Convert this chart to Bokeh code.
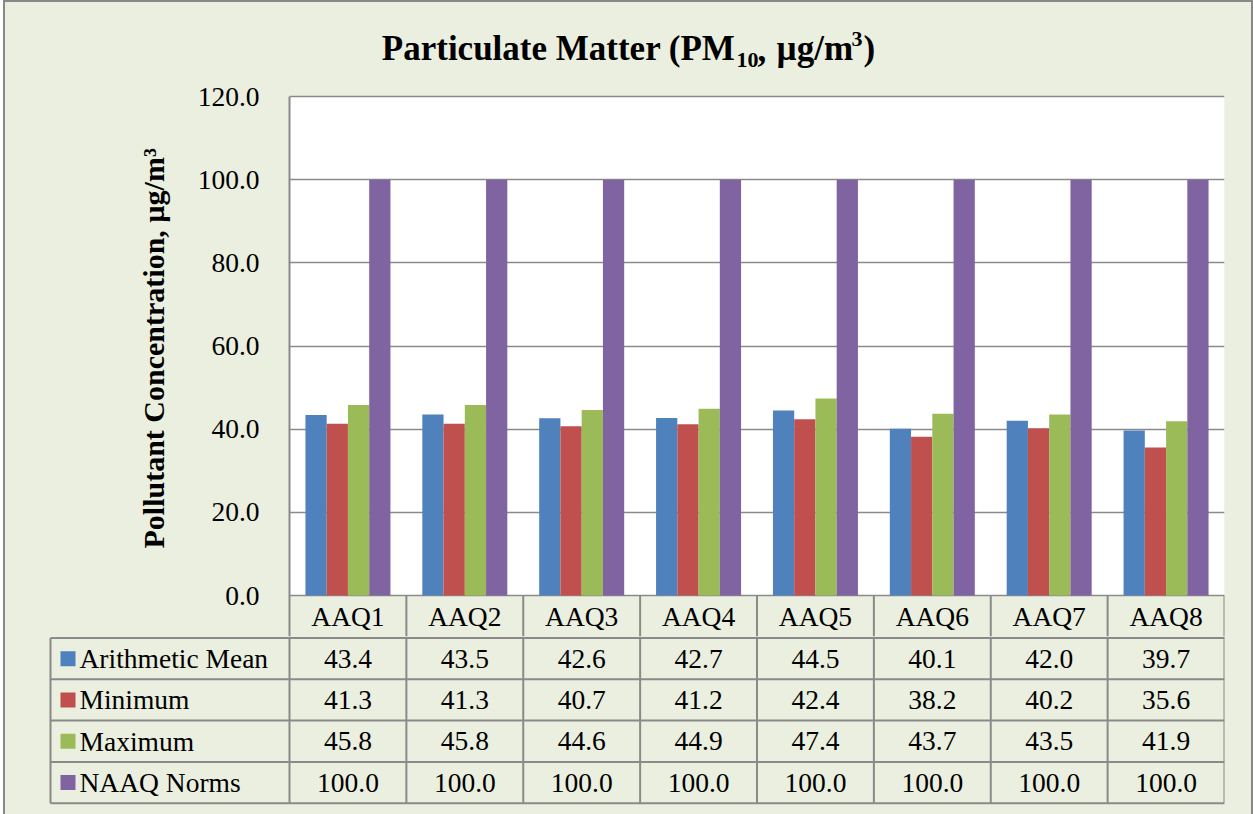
from bokeh.plotting import figure
from bokeh.models import Range1d, FixedTicker, NumeralTickFormatter, BoxAnnotation, ColumnDataSource, Title
from bokeh.transform import dodge
from bokeh.layouts import column
from bokeh.core.properties import value
from bokeh.embed import file_html
from bokeh.resources import INLINE

# ---------------- data ----------------
categories = ["AAQ1", "AAQ2", "AAQ3", "AAQ4", "AAQ5", "AAQ6", "AAQ7", "AAQ8"]
series_names = ["Arithmetic Mean", "Minimum", "Maximum", "NAAQ Norms"]
arithmetic_mean = [43.4, 43.5, 42.6, 42.7, 44.5, 40.1, 42.0, 39.7]
minimum = [41.3, 41.3, 40.7, 41.2, 42.4, 38.2, 40.2, 35.6]
maximum = [45.8, 45.8, 44.6, 44.9, 47.4, 43.7, 43.5, 41.9]
naaq_norms = [100.0, 100.0, 100.0, 100.0, 100.0, 100.0, 100.0, 100.0]
y_ticks = [0, 20, 40, 60, 80, 100, 120]
colors = ["#4F81BD", "#C0504D", "#9BBB59", "#8064A2"]

# ---------------- style / layout constants ----------------
BG = "#EBEFDF"
LINE = "#8A8A8A"
FONT = "Liberation Serif"
TXT = "27.5px"
N = len(categories)
Y_MAX = 120.0
PAGE_X0 = 5            # figure x origin on page (margin 3 + border 2)
FRAME_L, FRAME_R = 289, 1224
FRAME_TOP_PX, ZERO_PX = 96, 595
CHART_TOP_PX, SPLIT_PX, PAGE_H = 2, 636, 814
FIG_W = 1246
CW = (FRAME_R - FRAME_L) / N                # px per category
K = Y_MAX / (ZERO_PX - FRAME_TOP_PX)        # data units per px
ROW = 41.3
BAR_W = 1 / 5.5

def xd(px):
    return (px - FRAME_L) / CW

def yd(px):
    return (ZERO_PX - px) * K

series = [arithmetic_mean, minimum, maximum, naaq_norms]
data = {"pos": [i + 0.5 for i in range(N)], "cat": categories}
for j, s in enumerate(series):
    data["s%d" % j] = s
src = ColumnDataSource(data)

# ---------------- chart figure ----------------
ytop, ybot = yd(CHART_TOP_PX), yd(SPLIT_PX)
p = figure(width=FIG_W, height=SPLIT_PX - CHART_TOP_PX,
           x_range=Range1d(0, N), y_range=Range1d(ybot, ytop),
           x_axis_type=None, output_backend="svg", toolbar_location=None,
           min_border_left=FRAME_L - PAGE_X0, min_border_right=PAGE_X0 + FIG_W - FRAME_R,
           min_border_top=0, min_border_bottom=0)
p.frame_align = False
p.background_fill_color = BG
p.border_fill_color = BG
p.outline_line_color = None

p.add_layout(BoxAnnotation(left=0, right=N, bottom=0, top=Y_MAX, fill_color="white",
                           fill_alpha=1, line_color=None, level="image"))

for j in range(len(series)):
    p.vbar(x=dodge("pos", (j - 1.5) * BAR_W, range=p.x_range), top="s%d" % j,
           width=BAR_W, bottom=0, source=src, fill_color=colors[j], line_color=None)

ax = p.yaxis[0]
ax.ticker = FixedTicker(ticks=y_ticks)
ax.formatter = NumeralTickFormatter(format="0.0")
ax.bounds = (ybot, Y_MAX)
ax.axis_line_color = LINE
ax.axis_line_width = 2
ax.major_tick_line_color = None
ax.minor_tick_line_color = None
ax.major_label_text_font = FONT
ax.major_label_text_font_size = TXT
ax.major_label_text_color = "black"
ax.major_label_standoff = 24

ylab = Title(text="Pollutant Concentration, µg/m³", align="left", offset=88, standoff=50,
             text_font=FONT, text_font_style="bold", text_font_size="30px", text_color="black")
p.add_layout(ylab, "left")

p.ygrid.grid_line_color = LINE
p.ygrid.grid_line_width = 1.5

# header row separators and category labels
bx = list(range(1, N + 1))
p.segment(x0=bx, y0=[ybot] * len(bx), x1=bx, y1=[0] * len(bx), line_color=LINE, line_width=2)
p.text(x="pos", y=ybot / 2, text="cat", source=src, text_font=value(FONT),
       text_font_size=TXT, text_align="center", text_baseline="middle", text_color="black")

# title pieces (text, left/right px, baseline px, size, align)
title_parts = [
    ("Particulate Matter (PM", 735, 48, "35px", "right"),
    ("10", 736, 59, "22px", "left"),
    (",", 757, 48, "35px", "left"),
    ("µg/m", 776, 48, "35px", "left"),
    ("3", 851, 38, "22px", "left"),
    (")", 863, 48, "35px", "left"),
]
for t, px, py, fs, al in title_parts:
    p.text(x=[xd(px)], y=[yd(py)], text=[t], text_font=value(FONT), text_font_style="bold",
           text_font_size=fs, text_align=al, text_baseline="alphabetic", text_color="black")

# ---------------- table figure ----------------
TAB_L = 48
q = figure(width=FIG_W, height=PAGE_H - SPLIT_PX,
           x_range=Range1d(xd(TAB_L), N), y_range=Range1d(-(PAGE_H - SPLIT_PX - 1.5) / ROW, 1.5 / ROW),
           x_axis_type=None, y_axis_type=None, output_backend="svg", toolbar_location=None,
           min_border_left=TAB_L - PAGE_X0, min_border_right=PAGE_X0 + FIG_W - FRAME_R,
           min_border_top=0, min_border_bottom=0)
q.frame_align = False
q.background_fill_color = BG
q.border_fill_color = BG
q.outline_line_color = None

nrows = len(series_names)
xl = xd(50)
q.segment(x0=[xl] * (nrows + 1), y0=[-r for r in range(nrows + 1)],
          x1=[N] * (nrows + 1), y1=[-r for r in range(nrows + 1)], line_color=LINE, line_width=2)
vx = list(range(0, N + 1))
q.segment(x0=vx, y0=[1.5 / ROW] * len(vx), x1=vx, y1=[-nrows] * len(vx), line_color=LINE, line_width=2)
q.segment(x0=[xl], y0=[0], x1=[xl], y1=[-nrows], line_color=LINE, line_width=2)

row_y = [-(r + 0.5) for r in range(nrows)]
q.scatter(x=[xd(67.5)] * nrows, y=row_y, marker="square", size=15, fill_color=colors,
          line_color=None)
q.text(x=[xd(79)] * nrows, y=row_y, text=series_names, text_font=value(FONT), text_font_size=TXT,
       text_align="left", text_baseline="middle", text_color="black")
for r, s in enumerate(series):
    q.text(x=data["pos"], y=[row_y[r]] * N, text=["%.1f" % v for v in s], text_font=value(FONT),
           text_font_size=TXT, text_align="center", text_baseline="middle", text_color="black")

layout = column(p, q, spacing=0,
                styles={"margin-left": "3px", "border-left": "2px solid #888888",
                        "border-top": "2px solid #888888", "border-right": "2px solid #888888",
                        "background-color": BG})

open("out.html", "w").write(file_html(layout, INLINE))
